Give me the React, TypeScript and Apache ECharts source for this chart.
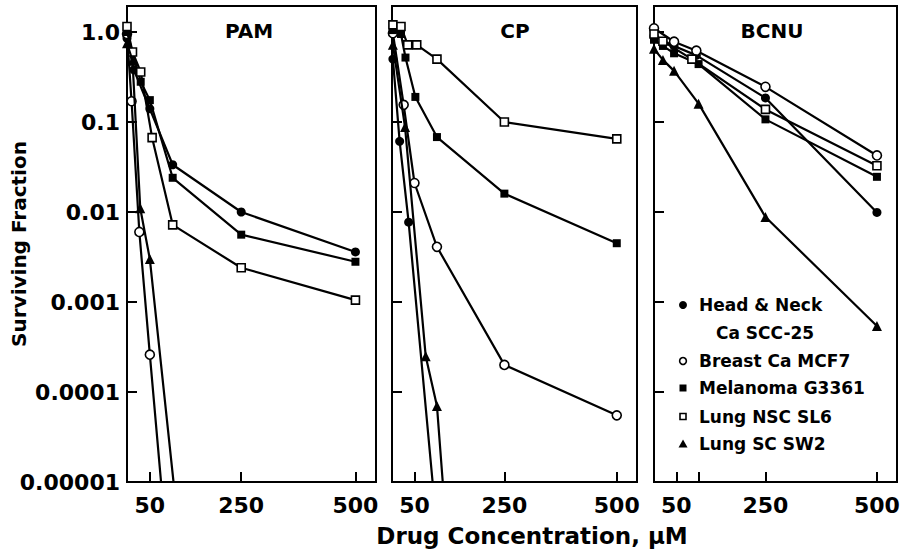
import React, { useEffect, useRef } from 'react';
import * as echarts from 'echarts';

// ---------- data ----------
const panelTitles = ['PAM', 'CP', 'BCNU'];
const cellLines = ['Head & Neck Ca SCC-25', 'Breast Ca MCF7', 'Melanoma G3361', 'Lung NSC SL6', 'Lung SC SW2'];
const legendLines = ['Head & Neck', 'Ca SCC-25', 'Breast Ca MCF7', 'Melanoma G3361', 'Lung NSC SL6', 'Lung SC SW2'];

const yTickValues = [0.00001, 0.0001, 0.001, 0.01, 0.1, 1];
const yTickLabels = ['0.00001', '0.0001', '0.001', '0.01', '0.1', '1.0'];
const xTickValues = [50, 250, 500];
const bcnuTickValues = [50, 100, 250, 500];

// PAM  [concentration µM, surviving fraction]
const pamHeadNeck = [[0, 0.85], [15, 0.38], [50, 0.14], [100, 0.0335], [250, 0.01], [500, 0.0036]];
const pamBreast = [[0, 0.95], [10, 0.17], [27, 0.006], [50, 0.00026], [100, 0.00000034]];
const pamMelanoma = [[0, 1.0], [30, 0.28], [50, 0.175], [100, 0.024], [250, 0.0056], [500, 0.0028]];
const pamLungNSC = [[0, 1.15], [12, 0.6], [30, 0.36], [55, 0.067], [100, 0.0072], [250, 0.0024], [500, 0.00105]];
const pamLungSC = [[0, 0.75], [12, 0.48], [29, 0.011], [50, 0.003], [150, 0.00000005]];

// CP
const cpHeadNeck = [[2, 0.5], [17, 0.061], [37, 0.0077], [100, 0.000003]];
const cpBreast = [[2, 0.97], [26, 0.155], [50, 0.021], [100, 0.0041], [250, 0.0002], [500, 0.000055]];
const cpMelanoma = [[2, 1.05], [20, 0.95], [30, 0.52], [52, 0.19], [100, 0.068], [250, 0.016], [500, 0.0045]];
const cpLungNSC = [[2, 1.2], [20, 1.15], [35, 0.72], [55, 0.72], [100, 0.5], [250, 0.1], [500, 0.065]];
const cpLungSC = [[2, 0.72], [29, 0.088], [75, 0.00025], [100, 0.00007], [125, 0.0000016]];

// BCNU
const bcnuHeadNeck = [[0, 0.9], [45, 0.7], [95, 0.55], [250, 0.185], [500, 0.0099]];
const bcnuBreast = [[0, 1.1], [45, 0.78], [95, 0.62], [250, 0.246], [500, 0.0425]];
const bcnuMelanoma = [[0, 0.82], [20, 0.7], [45, 0.58], [100, 0.44], [250, 0.107], [500, 0.0246]];
const bcnuLungNSC = [[0, 0.95], [20, 0.79], [85, 0.5], [250, 0.138], [500, 0.0327]];
const bcnuLungSC = [[0, 0.65], [20, 0.49], [45, 0.37], [100, 0.16], [250, 0.0088], [500, 0.00054]];

const panelData = [
  [pamHeadNeck, pamBreast, pamMelanoma, pamLungNSC, pamLungSC],
  [cpHeadNeck, cpBreast, cpMelanoma, cpLungNSC, cpLungSC],
  [bcnuHeadNeck, bcnuBreast, bcnuMelanoma, bcnuLungNSC, bcnuLungSC],
];

// ---------- styling ----------
const FONT = 'DejaVu Sans';
const markers = [
  { symbol: 'circle', fill: '#000', size: 9 },
  { symbol: 'circle', fill: '#fff', size: 9 },
  { symbol: 'rect', fill: '#000', size: 8 },
  { symbol: 'rect', fill: '#fff', size: 8 },
  { symbol: 'triangle', fill: '#000', size: 10 },
];
const grids = [
  { left: 127, top: 6, width: 249, height: 476 },
  { left: 392, top: 6, width: 245, height: 476 },
  { left: 654, top: 6, width: 243, height: 476 },
];
const X_MAX = 545;
const Y_MIN = 0.00001;
const Y_MAX = 1.945;

function yLabel(v: number) {
  const e = Math.log10(v);
  const r = Math.round(e);
  if (Math.abs(e - r) > 1e-6) return '';
  const idx = yTickValues.findIndex((t) => Math.round(Math.log10(t)) === r);
  return idx >= 0 ? yTickLabels[idx] : '';
}

export default function App() {
  const ref = useRef<HTMLDivElement>(null);

  useEffect(() => {
    document.body.style.margin = '0';
    if (!ref.current) return;
    const chart = echarts.init(ref.current, null, { renderer: 'svg' });

    const axisLine = { show: true, onZero: false, lineStyle: { color: '#000', width: 2 } };
    const labelFont = { color: '#000', fontFamily: FONT, fontWeight: 'bold' as const, fontSize: 22 };

    const xAxis = grids.map((_, i) => ({
      type: 'value',
      gridIndex: i,
      min: 0,
      max: X_MAX,
      axisLine,
      splitLine: { show: false },
      axisTick: {
        show: true,
        inside: true,
        length: 10,
        lineStyle: { color: '#000', width: 2 },
        customValues: i === 2 ? bcnuTickValues : xTickValues,
      },
      axisLabel: { show: true, ...labelFont, margin: 12, customValues: xTickValues, formatter: (v: number) => String(v) },
    }));

    const yAxis = grids.map((_, i) => ({
      type: 'log',
      logBase: 10,
      gridIndex: i,
      min: Y_MIN,
      max: Y_MAX,
      axisLine,
      splitLine: { show: false },
      minorTick: { show: false },
      axisTick: { show: true, inside: true, length: 10, lineStyle: { color: '#000', width: 2 } },
      axisLabel: { show: i === 0, ...labelFont, margin: 7, formatter: yLabel, showMaxLabel: false },
    }));

    const series: any[] = [];
    panelData.forEach((sets, p) => {
      sets.forEach((data, s) => {
        const m = markers[s];
        series.push({
          type: 'line',
          name: cellLines[s],
          xAxisIndex: p,
          yAxisIndex: p,
          data,
          clip: true,
          symbol: m.symbol,
          symbolSize: m.size,
          showSymbol: true,
          silent: true,
          lineStyle: { color: '#000', width: 2.2 },
          itemStyle: { color: m.fill, borderColor: '#000', borderWidth: m.fill === '#fff' ? 1.6 : 0 },
          z: 2 + s,
        });
      });
    });

    const txt = (text: string, x: number, y: number, size: number, align = 'center', rotation = 0) => ({
      type: 'text',
      x,
      y,
      rotation,
      silent: true,
      style: { text, fill: '#000', fontFamily: FONT, fontWeight: 'bold', fontSize: size, align, verticalAlign: 'middle' },
    });

    const legendX = 683;
    const legendRows = [305, 333, 361, 388, 416.5, 444];
    const graphic: any[] = [
      txt(panelTitles[0], 249, 31, 20),
      txt(panelTitles[1], 515, 31, 20),
      txt(panelTitles[2], 772, 31, 20),
      txt('Surviving Fraction', 19, 244, 20, 'center', Math.PI / 2),
      txt('Drug Concentration, μM', 532, 536, 23),
      // legend markers
      { type: 'circle', silent: true, shape: { cx: legendX, cy: legendRows[0], r: 4 }, style: { fill: '#000' } },
      { type: 'circle', silent: true, shape: { cx: legendX, cy: legendRows[2], r: 3.4 }, style: { fill: '#fff', stroke: '#000', lineWidth: 1.6 } },
      { type: 'rect', silent: true, shape: { x: legendX - 3.5, y: legendRows[3] - 3.5, width: 7, height: 7 }, style: { fill: '#000' } },
      { type: 'rect', silent: true, shape: { x: legendX - 3, y: legendRows[4] - 3, width: 6, height: 6 }, style: { fill: '#fff', stroke: '#000', lineWidth: 1.6 } },
      {
        type: 'polygon',
        silent: true,
        shape: { points: [[legendX, legendRows[5] - 4.5], [legendX + 4.5, legendRows[5] + 3.5], [legendX - 4.5, legendRows[5] + 3.5]] },
        style: { fill: '#000' },
      },
      txt(legendLines[0], 699, legendRows[0], 17, 'left'),
      txt(legendLines[1], 716, legendRows[1], 17, 'left'),
      txt(legendLines[2], 699, legendRows[2], 17, 'left'),
      txt(legendLines[3], 699, legendRows[3], 17, 'left'),
      txt(legendLines[4], 699, legendRows[4], 17, 'left'),
      txt(legendLines[5], 699, legendRows[5], 17, 'left'),
    ];

    chart.setOption({
      animation: false,
      backgroundColor: '#fff',
      grid: grids.map((g) => ({ ...g, show: true, borderColor: '#000', borderWidth: 2, containLabel: false })),
      xAxis,
      yAxis,
      series,
      graphic,
    });

    return () => chart.dispose();
  }, []);

  return <div ref={ref} style={{ width: 905, height: 552 }} />;
}
